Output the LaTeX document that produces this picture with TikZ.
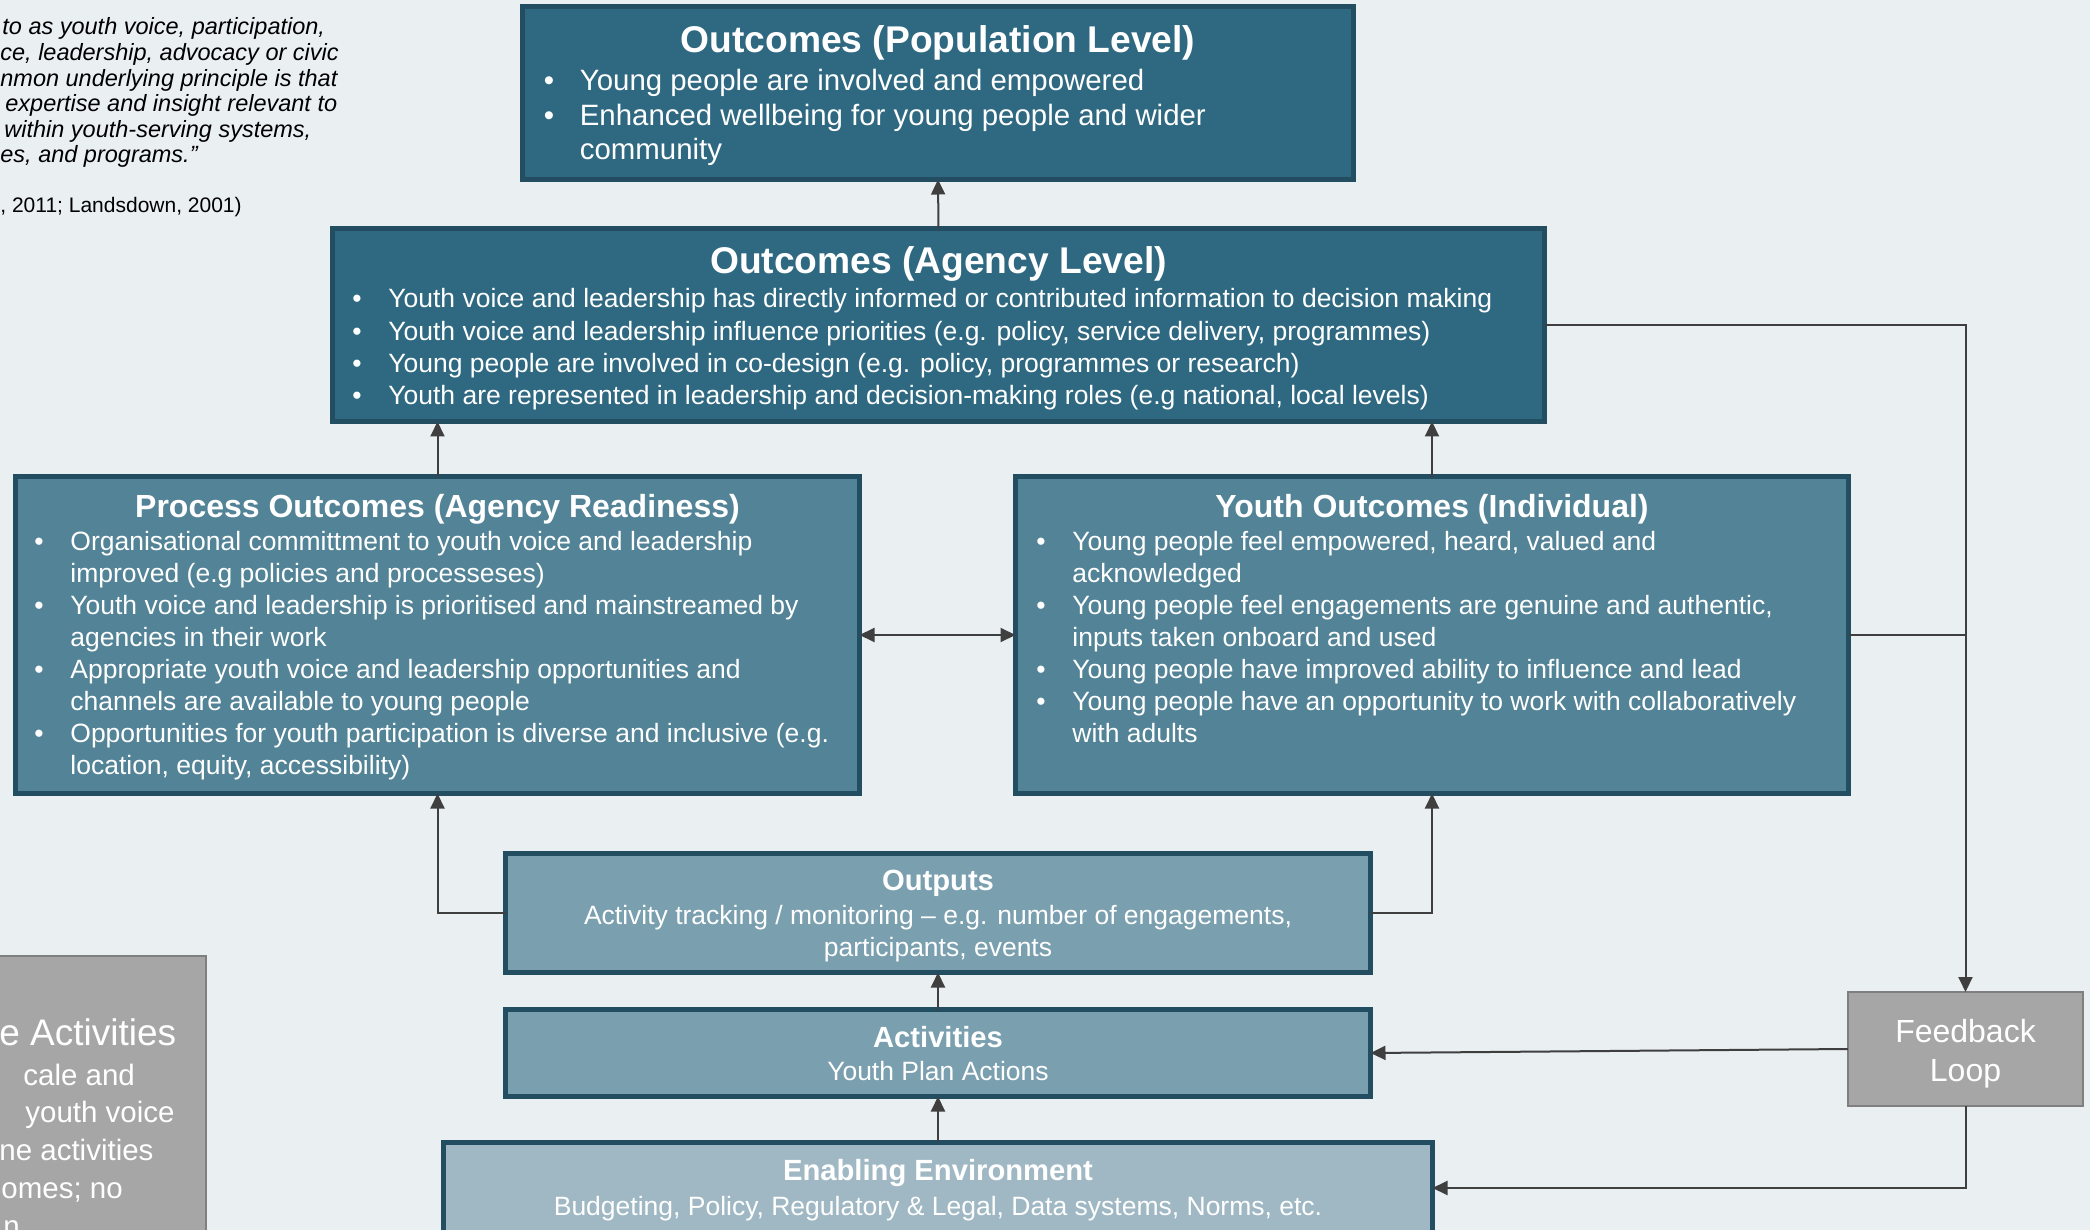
\documentclass[tikz,border=0pt]{standalone}
\usepackage{fontspec}
\setmainfont{Liberation Sans}
\usetikzlibrary{positioning,arrows.meta}

\definecolor{bgcol}{HTML}{EAEFF2}
\definecolor{boxline}{HTML}{234E62}
\definecolor{darkfill}{HTML}{2E6981}
\definecolor{midfill}{HTML}{528396}
\definecolor{lightfill}{HTML}{7A9FAF}
\definecolor{palefill}{HTML}{9FB8C4}
\definecolor{greyfill}{HTML}{A6A6A6}
\definecolor{greyline}{HTML}{7F7F7F}
\definecolor{arrcol}{HTML}{3F3F3F}

\newcommand{\bul}{\makebox[18pt][l]{\textbullet}}
\newcommand{\ind}{\hspace*{18pt}}

\begin{document}
\begin{tikzpicture}[x=0.5pt,y=-0.5pt,
  box/.style={shape=rectangle,draw=boxline,line width=2.5pt,inner sep=0,outer sep=0},
  greybox/.style={shape=rectangle,draw=greyline,fill=greyfill,line width=1pt,inner sep=0,outer sep=0},
  bigtitle/.style={text=white,inner sep=0,anchor=base,font=\bfseries\fontsize{18.6}{22}\selectfont},
  midtitle/.style={text=white,inner sep=0,anchor=base,font=\bfseries\fontsize{16}{19}\selectfont},
  smalltitle/.style={text=white,inner sep=0,anchor=base,font=\bfseries\fontsize{14.6}{17}\selectfont},
  bigbody/.style={text=white,inner sep=0,anchor=base west,align=left,font=\fontsize{14.7}{17.25}\selectfont},
  body/.style={text=white,inner sep=0,anchor=base west,align=left,font=\fontsize{13.25}{16}\selectfont},
  midbody/.style={text=white,inner sep=0,anchor=base,align=center,font=\fontsize{13.25}{16}\selectfont},
  quote/.style={inner sep=0,anchor=base west,font=\itshape\fontsize{11.75}{13}\selectfont},
  greytext/.style={text=white,inner sep=0,anchor=base west,font=\fontsize{14.75}{19}\selectfont},
  arr/.style={draw=arrcol,line width=1pt,-{Triangle[length=7.5pt,width=7pt]}},
  link/.style={draw=arrcol,line width=1pt},
]
\useasboundingbox (0,0) rectangle (2090,1230);
\fill[bgcol] (0,0) rectangle (2090,1230);
\clip (0,0) rectangle (2090,1230);

% quote on the left, cut off by the page edge
\node[quote] (q1) at (2,35) {to as youth voice, participation,};
\node[quote] (q2) at (0,60.6) {ce, leadership, advocacy or civic};
\node[quote] (q3) at (0,86.2) {nmon underlying principle is that};
\node[quote] (q4) at (5,111.8) {expertise and insight relevant to};
\node[quote] (q5) at (4,137.4) {within youth-serving systems,};
\node[quote] (q6) at (0,163) {es, and programs.”};
\node[quote,font=\fontsize{10.5}{13}\selectfont] (qref) at (0,213) {, 2011; Landsdown, 2001)};

% boxes
\node[box,fill=darkfill,minimum width=415.5pt,minimum height=86.5pt] (pop) at (938,93) {};
\node[box,fill=darkfill,minimum width=606pt,minimum height=96.5pt] (agency) at (938.5,325) {};
\node[box,fill=midfill,minimum width=422pt,minimum height=158.5pt] (process) at (437.5,635) {};
\node[box,fill=midfill,minimum width=416.5pt,minimum height=158.5pt] (youth) at (1432,635) {};
\node[box,fill=lightfill,minimum width=432.5pt,minimum height=59.5pt] (outputs) at (938,913) {};
\node[box,fill=lightfill,minimum width=432.5pt,minimum height=43.5pt] (activities) at (938,1053) {};
\node[box,fill=palefill,minimum width=494.5pt,minimum height=46pt] (enabling) at (938,1188) {};
\node[greybox,minimum width=117.7pt,minimum height=57pt] (feedback) at (1965.5,1049) {};
\node[greybox,minimum width=253pt,minimum height=172pt] (sideact) at (-47,1128) {};

% texts of the boxes (base = last line)
\node[bigtitle] (popT) at (938,53) {Outcomes (Population Level)};
\node[bigbody] (popB) at (543.5,160) {\bul Young people are involved and empowered\\
  \bul Enhanced wellbeing for young people and wider\\
  \ind community};

\node[bigtitle] (agencyT) at (938.5,274) {Outcomes (Agency Level)};
\node[body,font=\fontsize{13.25}{16.2}\selectfont] (agencyB) at (352,405) {\bul Youth voice and leadership has directly informed or contributed information to decision making\\
  \bul Youth voice and leadership influence priorities (e.g. policy, service delivery, programmes)\\
  \bul Young people are involved in co-design (e.g. policy, programmes or research)\\
  \bul Youth are represented in leadership and decision-making roles (e.g national, local levels)};

\node[midtitle] (processT) at (437.5,517) {Process Outcomes (Agency Readiness)};
\node[body] (processB) at (34,774) {\bul Organisational committment to youth voice and leadership\\
  \ind improved (e.g policies and processeses)\\
  \bul Youth voice and leadership is prioritised and mainstreamed by\\
  \ind agencies in their work\\
  \bul Appropriate youth voice and leadership opportunities and\\
  \ind channels are available to young people\\
  \bul Opportunities for youth participation is diverse and inclusive (e.g.\\
  \ind location, equity, accessibility)};

\node[midtitle] (youthT) at (1432,517) {Youth Outcomes (Individual)};
\node[body] (youthB) at (1036,742) {\bul Young people feel empowered, heard, valued and\\
  \ind acknowledged\\
  \bul Young people feel engagements are genuine and authentic,\\
  \ind inputs taken onboard and used\\
  \bul Young people have improved ability to influence and lead\\
  \bul Young people have an opportunity to work with collaboratively\\
  \ind with adults};

\node[smalltitle] (outputsT) at (938,890) {Outputs};
\node[midbody] (outputsB) at (938,956) {Activity tracking / monitoring – e.g. number of engagements,\\participants, events};
\node[smalltitle] (activitiesT) at (938,1047) {Activities};
\node[midbody] (activitiesB) at (938,1080) {Youth Plan Actions};
\node[smalltitle] (enablingT) at (938,1180) {Enabling Environment};
\node[midbody] (enablingB) at (938,1215) {Budgeting, Policy, Regulatory \& Legal, Data systems, Norms, etc.};

\node[text=white,inner sep=0,anchor=base,align=center,font=\fontsize{16}{19.5}\selectfont] (feedbackT) at (1965.5,1081) {Feedback\\Loop};

\node[greytext,font=\fontsize{18.5}{22}\selectfont] (side1) at (-1,1045) {e Activities};
\node[greytext] (side2) at (23,1085) {cale and};
\node[greytext] (side3) at (25,1122) {youth voice};
\node[greytext] (side4) at (-1,1160.7) {ne activities};
\node[greytext] (side5) at (1,1198) {omes; no};
\node[greytext] (side6) at (3,1236) {n};

% connectors
\draw[arr] (agency.north) -- (pop.south);
\draw[arr] (process.north) -- (process.north |- agency.south);
\draw[arr] (youth.north) -- (youth.north |- agency.south);
\draw[draw=arrcol,line width=1pt,{Triangle[length=7.5pt,width=7pt]}-{Triangle[length=7.5pt,width=7pt]}] (process.east) -- (youth.west);
\draw[arr] (outputs.west) -| (process.south);
\draw[arr] (outputs.east) -| (youth.south);
\draw[arr] (activities.north) -- (outputs.south);
\draw[arr] (enabling.north) -- (activities.south);
\draw[arr] (agency.east) -| (feedback.north);
\draw[link] (youth.east) -- (youth.east -| feedback.north);
\draw[arr] (feedback.west) -- (activities.east);
\draw[arr] (feedback.south) |- (enabling.east);
\end{tikzpicture}
\end{document}
